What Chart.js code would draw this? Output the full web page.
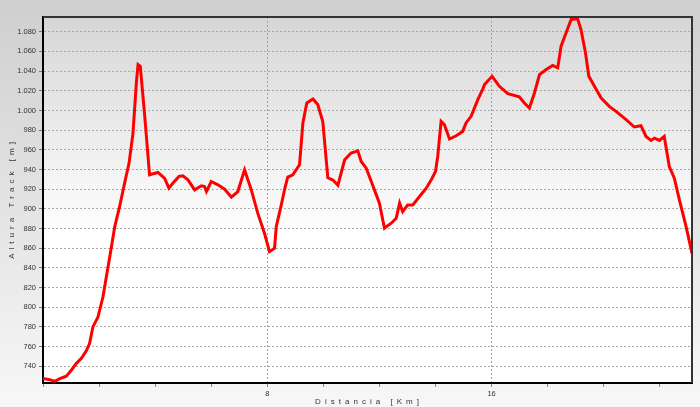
<!DOCTYPE html>
<html>
<head>
<meta charset="utf-8">
<script src="https://cdn.jsdelivr.net/npm/chart.js@4.4.1/dist/chart.umd.min.js"></script>
<style>
  html, body { margin: 0; padding: 0; background: #fff; }
  #wrap { width: 700px; height: 407px; }
</style>
</head>
<body>
<div id="wrap"><canvas id="c" width="700" height="407"></canvas></div>
<script>
const distanceKm = [0, 0.24, 0.42, 0.60, 0.83, 1.01, 1.19, 1.37, 1.55, 1.66, 1.78, 1.96, 2.14, 2.26, 2.38, 2.56, 2.73, 2.91, 3.07, 3.21, 3.33, 3.39, 3.47, 3.63, 3.80, 4.10, 4.34, 4.49, 4.63, 4.85, 4.99, 5.17, 5.41, 5.65, 5.76, 5.83, 6.00, 6.24, 6.48, 6.72, 6.95, 7.19, 7.43, 7.66, 7.90, 8.08, 8.26, 8.32, 8.50, 8.62, 8.73, 8.91, 9.15, 9.27, 9.41, 9.63, 9.80, 9.98, 10.16, 10.34, 10.52, 10.76, 10.99, 11.23, 11.35, 11.53, 11.71, 11.89, 12.00, 12.18, 12.42, 12.60, 12.72, 12.83, 13.01, 13.19, 13.43, 13.67, 13.85, 14.00, 14.08, 14.20, 14.32, 14.50, 14.74, 14.97, 15.09, 15.27, 15.51, 15.69, 15.75, 16.02, 16.28, 16.58, 16.99, 17.17, 17.35, 17.53, 17.71, 17.95, 18.18, 18.36, 18.48, 18.66, 18.84, 19.07, 19.19, 19.35, 19.47, 19.67, 19.91, 20.20, 20.44, 20.80, 21.09, 21.33, 21.51, 21.69, 21.81, 21.99, 22.16, 22.34, 22.52, 22.70, 22.94, 23.15];
const altitudeM = [727.5, 726.4, 724.7, 727.5, 730, 736, 743, 748, 756, 763, 780, 790, 810.6, 831, 851, 882, 902, 926, 946.5, 977, 1028, 1046.7, 1045, 994, 934.6, 937, 931, 921, 926, 933, 933.6, 929.5, 919.3, 923.4, 922.7, 917.6, 927.8, 924.4, 920, 911.9, 917.6, 939.7, 919.3, 895.6, 875.2, 856.5, 860, 882, 904, 920, 932.3, 934.6, 944.8, 987.3, 1007.6, 1011.7, 1006, 988.8, 931.6, 929.3, 924, 949.9, 956.7, 959, 948.2, 941.4, 927.8, 914.2, 905.8, 880.3, 885.4, 890.5, 905.8, 897.2, 904, 904, 912.5, 921, 929.5, 938, 953.2, 988.9, 985.5, 971, 974.3, 978.7, 987.3, 994, 1011, 1022, 1026.3, 1034.7, 1024.6, 1017.1, 1013.8, 1007.6, 1002.5, 1017.8, 1036.5, 1041.6, 1045.7, 1043.3, 1065.3, 1078.9, 1092.5, 1093.2, 1082.3, 1058.6, 1034.8, 1024.6, 1012.7, 1004.2, 999.1, 990.6, 983.2, 984.5, 973.6, 969.5, 971.9, 969.5, 973.6, 943, 931.2, 909.1, 881.9, 854.8];
const xLabelValues = [8, 16];
const xTitle = 'D i s t a n c i a   [ K m ]';
const yTitle = 'A l t u r a   T r a c k   [ m ]';

const points = distanceKm.map((d, i) => ({ x: d, y: altitudeM[i] }));

const bgPlugin = {
  id: 'bg',
  beforeDraw(chart) {
    const { ctx, chartArea: a, width, height } = chart;
    ctx.save();
    const g = ctx.createLinearGradient(0, 0, 0, height);
    g.addColorStop(0, '#cfcfcf');
    g.addColorStop(1, '#f7f7f7');
    ctx.fillStyle = g;
    ctx.fillRect(0, 0, width, height);
    const g2 = ctx.createLinearGradient(0, a.top, 0, a.bottom);
    g2.addColorStop(0, '#d6d6d6');
    g2.addColorStop(0.6, '#ffffff');
    g2.addColorStop(1, '#ffffff');
    ctx.fillStyle = g2;
    ctx.fillRect(a.left, a.top, a.right - a.left, a.bottom - a.top);
    ctx.restore();
  },
  afterDraw(chart) {
    const { ctx, chartArea: a } = chart;
    ctx.save();
    ctx.strokeStyle = '#333';
    ctx.lineWidth = 2;
    ctx.beginPath();
    ctx.moveTo(a.left, a.top);
    ctx.lineTo(a.right, a.top);
    ctx.lineTo(a.right, a.bottom);
    ctx.stroke();
    ctx.restore();
  }
};

function spacedTitle(s) {
  if (s._spacedPatched) return;
  s._spacedPatched = true;
  const orig = s.drawTitle;
  s.drawTitle = function () {
    const ctx = this.ctx;
    const prev = ctx.letterSpacing;
    ctx.letterSpacing = '0.9px';
    orig.apply(this, arguments);
    ctx.letterSpacing = prev || '0px';
  };
}

const fontFam = '"Liberation Sans", Arial, sans-serif';

new Chart(document.getElementById('c'), {
  type: 'line',
  data: {
    datasets: [{
      data: points,
      borderColor: '#ff0000',
      borderWidth: 3,
      pointRadius: 0,
      tension: 0,
      fill: false
    }]
  },
  options: {
    responsive: false,
    animation: false,
    layout: { padding: { top: 17, right: 8, left: 0, bottom: 0 } },
    plugins: { legend: { display: false }, tooltip: { enabled: false } },
    scales: {
      x: {
        type: 'linear',
        min: 0,
        max: 23.15,
        afterFit(s) { s.height = 24; spacedTitle(s); },
        ticks: {
          stepSize: 2,
          includeBounds: false,
          autoSkip: false,
          maxRotation: 0,
          padding: 2,
          color: '#333',
          font: { family: fontFam, size: 7.5 },
          callback: (v) => xLabelValues.includes(v) ? String(v) : ''
        },
        grid: {
          color: (c) => (c.tick && xLabelValues.includes(c.tick.value)) ? '#a0a0a0' : 'rgba(0,0,0,0)',
          tickColor: '#888',
          tickLength: 4,
          lineWidth: 1
        },
        border: { color: '#000', width: 2, dash: [2, 2] },
        title: {
          display: true,
          text: xTitle,
          color: '#333',
          font: { family: fontFam, size: 8 },
          padding: { top: 0, bottom: 0 }
        }
      },
      y: {
        min: 723,
        max: 1095,
        afterFit(s) { s.width = 43; spacedTitle(s); },
        ticks: {
          stepSize: 20,
          includeBounds: false,
          padding: 3,
          color: '#333',
          font: { family: fontFam, size: 7.5 },
          callback: (v) => v >= 1000 ? Math.floor(v / 1000) + '.' + String(v % 1000).padStart(3, '0') : String(v)
        },
        grid: {
          color: '#a8a8a8',
          tickColor: '#777',
          tickLength: 4,
          lineWidth: 1
        },
        border: { color: '#000', width: 2, dash: [2, 2] },
        title: {
          display: true,
          text: yTitle,
          color: '#333',
          font: { family: fontFam, size: 8 },
          padding: { top: 7, bottom: 0 }
        }
      }
    }
  },
  plugins: [bgPlugin]
});
</script>
</body>
</html>
